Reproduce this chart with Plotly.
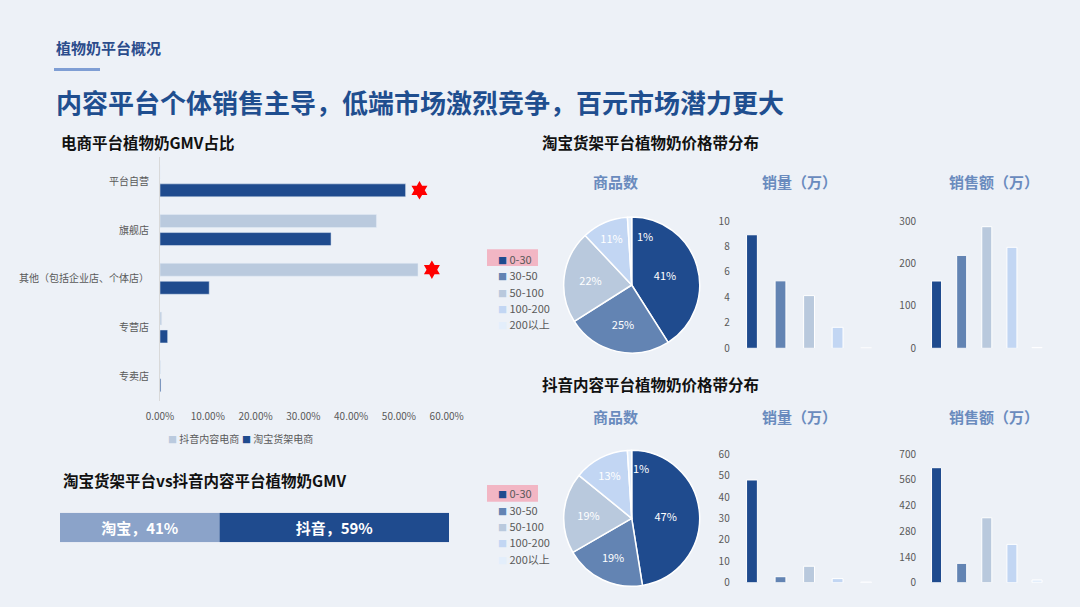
import plotly.graph_objects as go

W, H = 1080, 607


def fx(px):
    return px / W


def fy(py):
    return 1 - py / H


# ---------------- data ----------------
gmv_categories = ["平台自营", "旗舰店", "其他（包括企业店、个体店）", "专营店", "专卖店"]
douyin_share = [0.0, 0.453, 0.540, 0.0035, 0.001]
taobao_share = [0.514, 0.358, 0.103, 0.016, 0.002]
series_names = ["抖音内容电商", "淘宝货架电商"]
share_ticks = [0, 0.1, 0.2, 0.3, 0.4, 0.5, 0.6]

price_bands = ["0-30", "30-50", "50-100", "100-200", "200以上"]
tb_item_pct = [41, 25, 22, 11, 1]
tb_volume = [8.92, 5.3, 4.14, 1.65, 0.03]
tb_sales = [158.6, 219, 286.6, 238, 2]
dy_item_pct = [47, 19, 19, 13, 1]
dy_volume = [48, 2.8, 7.7, 1.9, 0.3]
dy_sales = [627, 105.6, 354, 209, 15]

tb_volume_ticks = [0, 2, 4, 6, 8, 10]
tb_sales_ticks = [0, 100, 200, 300]
dy_volume_ticks = [0, 10, 20, 30, 40, 50, 60]
dy_sales_ticks = [0, 140, 280, 420, 560, 700]

platforms = ["淘宝", "抖音"]
platform_gmv = [0.41, 0.59]

# ---------------- style ----------------
BG = "#EDF1F7"
FONT = "Noto Sans CJK SC"
band_colors = ["#1F4B8E", "#6384B3", "#B9C9DD", "#C2D6F3", "#E3EEFB"]
series_colors = ["#BACADE", "#1F4B8E"]
platform_colors = ["#8BA3C9", "#1F4B8E"]
GRAY = "#595959"
SUB = "#6A8BBE"

fig = go.Figure()

# ---------- left grouped bar chart ----------
BARGAP, GROUPGAP = 0.26, 0.28
pos = list(range(len(gmv_categories)))
for name, vals, col in zip(series_names, [douyin_share, taobao_share], series_colors):
    fig.add_trace(go.Bar(
        y=pos, x=vals, name=name, orientation="h",
        marker=dict(color=col), xaxis="x", yaxis="y", showlegend=False,
        hoverinfo="x+name",
    ))

slot = (1 - BARGAP) / 2
star_x, star_y = [], []
for k, vals in enumerate([douyin_share, taobao_share]):
    i = max(range(len(vals)), key=lambda j: vals[j])
    star_x.append(vals[i] + 0.029)
    star_y.append(i + (k - 0.5) * slot)
fig.add_trace(go.Scatter(
    x=star_x, y=star_y, mode="markers", xaxis="x", yaxis="y",
    marker=dict(symbol="hexagram", size=14, color="#FF0000", line=dict(width=0)),
    showlegend=False, hoverinfo="skip",
))

# ---------- pies ----------
def add_pie(vals, cy):
    r = 68
    fig.add_trace(go.Pie(
        labels=price_bands, values=vals, sort=False, direction="clockwise",
        rotation=0, hole=0,
        marker=dict(colors=band_colors, line=dict(color="#FFFFFF", width=1.5)),
        texttemplate=["%{value}%"] * (len(vals) - 1) + [""],
        textposition="inside", insidetextorientation="horizontal",
        textfont=dict(family=FONT, size=11, color="#FFFFFF"),
        domain=dict(x=[fx(631.7 - r), fx(631.7 + r)], y=[fy(cy + r), fy(cy - r)]),
        showlegend=False,
    ))


add_pie(tb_item_pct, 285)
add_pie(dy_item_pct, 518.3)

# ---------- small bar charts ----------
small = [
    (tb_volume, "x2", "y2", tb_volume_ticks, 0.38),
    (tb_sales, "x3", "y3", tb_sales_ticks, 0.40),
    (dy_volume, "x4", "y4", dy_volume_ticks, 0.38),
    (dy_sales, "x5", "y5", dy_sales_ticks, 0.40),
]
for vals, xa, ya, ticks, wd in small:
    fig.add_trace(go.Bar(
        x=price_bands, y=vals, xaxis=xa, yaxis=ya, width=wd,
        marker=dict(color=band_colors, line=dict(color="#FFFFFF", width=1)),
        showlegend=False,
    ))

# ---------- bottom stacked GMV bar ----------
bases = [sum(platform_gmv[:i]) for i in range(len(platform_gmv))]
fig.add_trace(go.Bar(
    y=[0] * len(platforms), x=platform_gmv, base=bases, orientation="h",
    width=1, xaxis="x6", yaxis="y6",
    marker=dict(color=platform_colors, line=dict(width=0)),
    text=[f"{p}，{v:.0%}" for p, v in zip(platforms, platform_gmv)],
    textposition="inside", insidetextanchor="middle",
    textfont=dict(family=FONT, size=15, color="#FFFFFF", weight="bold"),
    showlegend=False,
))

tickfont = dict(family=FONT, size=10, color=GRAY)
hidden = dict(visible=False)

layout = dict(
    width=W, height=H, paper_bgcolor=BG, plot_bgcolor="rgba(0,0,0,0)",
    margin=dict(l=0, r=0, t=0, b=0, pad=0, autoexpand=False), showlegend=False,
    barmode="group", bargap=BARGAP, bargroupgap=GROUPGAP,
    font=dict(family=FONT, color=GRAY),
    xaxis=dict(domain=[fx(160), fx(446.7)], range=[0, 0.6], tickvals=share_ticks,
               tickformat=".2%", showgrid=False, zeroline=False, showline=False,
               tickfont=dict(family=FONT, size=10, color=GRAY), ticklabelstandoff=8,
               anchor="y"),
    yaxis=dict(domain=[fy(400.5), fy(157)], range=[4.5, -0.5], tickvals=pos,
               ticktext=gmv_categories, showgrid=False, zeroline=False,
               showline=True, linecolor="#D9D9D9", linewidth=1,
               tickfont=dict(family=FONT, size=10, color=GRAY), ticklabelstandoff=8,
               anchor="x"),
)

small_dom = {
    "2": ([737.7, 880.4], [348.3, 221], [0, 10]),
    "3": ([924.0, 1049.6], [348.3, 221], [0, 300]),
    "4": ([737.7, 880.4], [582.7, 454.3], [0, 60]),
    "5": ([924.0, 1049.6], [582.7, 454.3], [0, 700]),
}
for (k, (xd, yd, rg)), (_, _, _, ticks, _) in zip(small_dom.items(), small):
    layout["xaxis" + k] = dict(domain=[fx(xd[0]), fx(xd[1])], anchor="y" + k,
                               range=[-0.5, 4.5], showticklabels=False, showgrid=False,
                               zeroline=False, showline=False)
    layout["yaxis" + k] = dict(domain=[fy(yd[0]), fy(yd[1])], anchor="x" + k,
                               range=rg, tickvals=ticks, showgrid=False, zeroline=False,
                               showline=False, tickfont=tickfont, ticklabelstandoff=7)

layout["xaxis6"] = dict(domain=[fx(60), fx(449)], anchor="y6", range=[0, 1], **hidden)
layout["yaxis6"] = dict(domain=[fy(542.3), fy(512.7)], anchor="x6", range=[-0.5, 0.5], **hidden)

fig.update_layout(**layout)

# ---------- texts ----------
ann = []


def text(x, y, s, size, color, bold=False, xanchor="left"):
    ann.append(dict(x=fx(x), y=fy(y), xref="paper", yref="paper", text=s,
                    showarrow=False, xanchor=xanchor, yanchor="middle",
                    font=dict(family=FONT, size=size, color=color,
                              weight="bold" if bold else "normal")))


text(54, 48, "植物奶平台概况", 15, "#2B4C8C", True)
text(54, 101, "内容平台个体销售主导，低端市场激烈竞争，百元市场潜力更大", 26, "#1F4E8F", True)
text(59, 142, "电商平台植物奶GMV占比", 15.5, "#111111", True)
text(540, 142, "淘宝货架平台植物奶价格带分布", 15.5, "#111111", True)
text(540, 384, "抖音内容平台植物奶价格带分布", 15.5, "#111111", True)
text(61, 480, "淘宝货架平台vs抖音内容平台植物奶GMV", 15.5, "#111111", True)

for y0 in (181.7, 416.5):
    text(615, y0, "商品数", 15, SUB, True, "center")
    text(799, y0, "销量（万）", 15, SUB, True, "center")
    text(994, y0, "销售额（万）", 15, SUB, True, "center")

# small-slice labels of the pies
text(645, 236, f"{tb_item_pct[-1]}%", 11, "#FFFFFF", False, "center")
text(641, 468, f"{dy_item_pct[-1]}%", 11, "#FFFFFF", False, "center")

# left chart legend
for x0, name, col in zip([166, 240], series_names, series_colors):
    text(x0, 438, f"<span style='color:{col};font-size:9px'>■</span> {name}", 10, GRAY)

# pie legends
for y0 in (259, 493.3):
    for i, (lab, col) in enumerate(zip(price_bands, band_colors)):
        text(496, y0 + i * 16.3, f"<span style='color:{col};font-size:9px'>■</span> {lab}", 11, GRAY)

shapes = [
    dict(type="rect", xref="paper", yref="paper", x0=fx(54), x1=fx(100), y0=fy(71), y1=fy(68),
         fillcolor="#7F9ED4", line=dict(width=0)),
]
for ytop, ybot in ((249.3, 266), (485, 501.7)):
    shapes.append(dict(type="rect", xref="paper", yref="paper", x0=fx(487), x1=fx(538),
                       y0=fy(ybot), y1=fy(ytop), fillcolor="#FF3050", opacity=0.3,
                       line=dict(width=0), layer="above"))

fig.update_layout(annotations=ann, shapes=shapes)
fig.write_html(
    "out.html",
    config={"displayModeBar": False},
    post_script="document.body.style.margin='0';document.body.style.background='#EDF1F7';",
)
